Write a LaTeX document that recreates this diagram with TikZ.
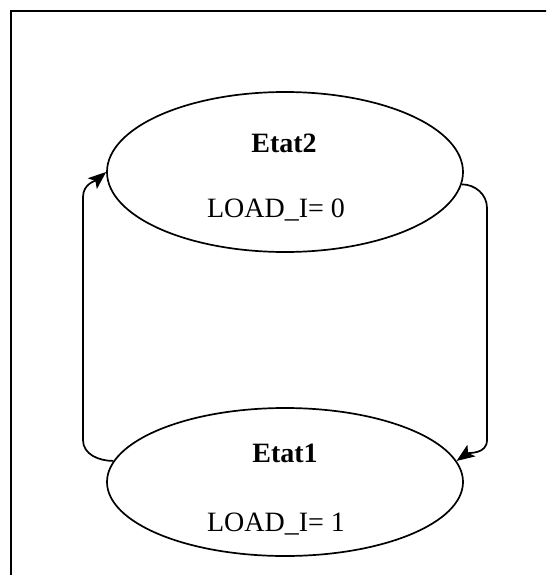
\documentclass[tikz,border=0pt]{standalone}
\usepackage{fontspec}
\setmainfont{Liberation Serif}
\usetikzlibrary{shapes.geometric,arrows.meta}
\begin{document}
\begin{tikzpicture}[x=1pt,y=-1pt,
  state/.style={draw,ellipse,line width=1.7pt,inner sep=0pt,minimum width=356pt},
  lbl/.style={font=\fontsize{28}{31}\selectfont,inner sep=0pt,anchor=base},
  ttl/.style={font=\fontsize{28}{31}\selectfont\bfseries,inner sep=0pt,anchor=base},
  arr/.style={line width=1.7pt,-{Stealth[length=18pt,width=14pt,inset=4pt]}}]
\useasboundingbox (0,0) rectangle (546,575);
\fill[white] (0,0) rectangle (546,575);
\begin{scope}
\clip (0,0) rectangle (546,575);
\draw[line width=1.8pt] (11,590) -- (11,11) -- (560,11);
\end{scope}
\node[state,minimum height=160pt] (e2) at (285,172) {};
\node[state,minimum height=148pt] (e1) at (285,482) {};
\node[ttl] (t2) at (284,152) {Etat2};
\node[lbl] (l2) at (276,217) {LOAD\_I= 0};
\node[ttl] (t1) at (285,462) {Etat1};
\node[lbl] (l1) at (276,531) {LOAD\_I= 1};
\draw[arr] (e1.173) to[out=180,in=-90] (83,440) -- (83,197) to[out=90,in=220] (e2.west);
\draw[arr] (e2.-4) to[out=0,in=90] (487,208) -- (487,440) to[out=-90,in=35] (e1.7);
\end{tikzpicture}
\end{document}
